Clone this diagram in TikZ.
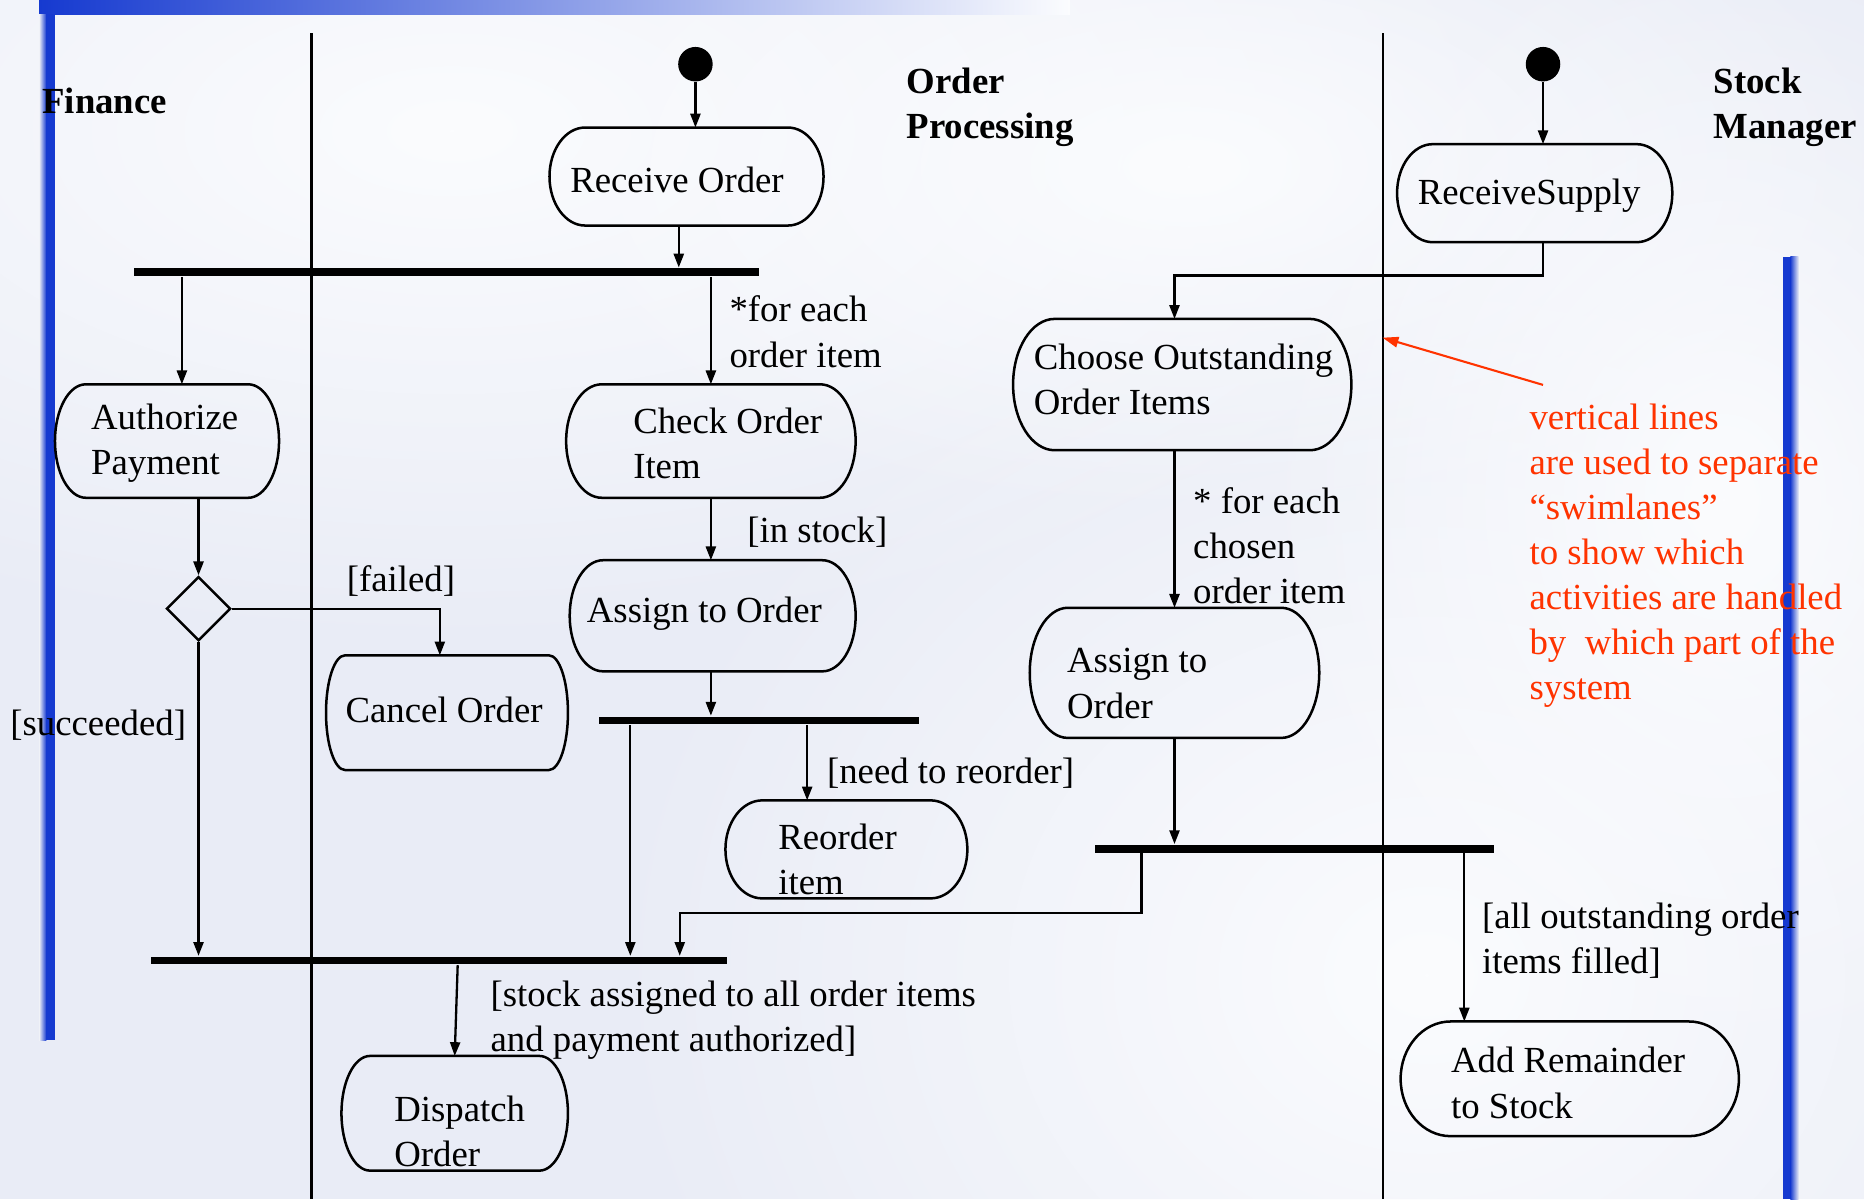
\documentclass[tikz,border=0pt]{standalone}
\usepackage{fontspec}
\setmainfont{Liberation Serif}
\usetikzlibrary{shapes.geometric,arrows.meta,calc,fadings}

\definecolor{bg}{RGB}{233,236,246}
\definecolor{bglight}{RGB}{251,252,254}
\definecolor{barblue}{RGB}{22,58,208}
\definecolor{notered}{RGB}{255,51,0}

\tikzfading[name=softglow, inner color=transparent!0, outer color=transparent!100]

\tikzset{
  x=0.01cm, y=-0.01cm,
  txt/.style={font=\fontsize{8.8}{10.8}\selectfont, align=left, inner sep=0pt, anchor=west, yshift=-0.03cm},
  lanehead/.style={txt, font=\bfseries\fontsize{8.8}{10.8}\selectfont},
  notetxt/.style={txt, text=notered},
  actframe/.style={rectangle, inner sep=0pt, draw=none},
  actline/.style={draw=black, line width=0.6pt},
  flow/.style={line width=0.55pt, -{Triangle[length=3.3pt,width=2.4pt]}},
  notearrow/.style={draw=notered, line width=0.5pt, -{Triangle[length=3.8pt,width=2.5pt]}},
  laneline/.style={line width=0.5pt},
  syncbar/.style={rectangle, fill=black, inner sep=0pt, minimum height=0.065cm},
  initial/.style={circle, fill=black, inner sep=0pt, minimum size=0.29cm},
  decision/.style={diamond, draw, line width=0.6pt, inner sep=0pt, aspect=1, minimum width=0.54cm, minimum height=0.54cm},
  glow/.style={fill=bglight, path fading=softglow},
}

% outline of an activity: flat top and bottom, elliptic left and right ends
\newcommand\actoutline[2]{%
  \draw[actline]
    ($(#1.north west)+(#2,0)$) -- ($(#1.north east)+(-#2,0)$)
    .. controls ($(#1.north east)+(-0.448*#2,0)$) and ($(#1.east)!0.552!(#1.north east)$) .. (#1.east)
    .. controls ($(#1.east)!0.552!(#1.south east)$) and ($(#1.south east)+(-0.448*#2,0)$) .. ($(#1.south east)+(-#2,0)$)
    -- ($(#1.south west)+(#2,0)$)
    .. controls ($(#1.south west)+(0.448*#2,0)$) and ($(#1.west)!0.552!(#1.south west)$) .. (#1.west)
    .. controls ($(#1.west)!0.552!(#1.north west)$) and ($(#1.north west)+(0.448*#2,0)$) .. ($(#1.north west)+(#2,0)$)
    -- cycle;
}
% activity: name, centre x, centre y, width, height (cm), text x, text y, text, end curvature
\newcommand\umlact[9]{%
  \node[actframe, minimum width=#4cm, minimum height=#5cm] (#1) at (#2,#3) {};
  \actoutline{#1}{#9}
  \node[txt] (#1-t) at (#6,#7) {#8};
}

\begin{document}
\begin{tikzpicture}
\useasboundingbox (0,0) rectangle (1568,1009);

% slide background with soft light patches
\fill[bg] (0,0) rectangle (1568,1009);
\fill[glow] (380,110) ellipse [x radius=9cm, y radius=4.4cm];
\fill[glow] (1200,820) ellipse [x radius=7cm, y radius=6cm];
\fill[glow] (1000,140) ellipse [x radius=6cm, y radius=3cm];
\fill[glow] (1450,420) ellipse [x radius=4cm, y radius=5cm];

% title bar and side bars
\shade[left color=barblue, right color=bglight] (33,0) rectangle (900,12.5);
\shade[left color=bg, right color=barblue] (33,12) rectangle (39,875);
\fill[barblue] (39,12) rectangle (46,875);
\fill[barblue] (1500,216) rectangle (1506,1009);
\shade[left color=barblue, right color=bg] (1506,216) rectangle (1513,1009);

% swimlane separators
\coordinate (l1t) at (262,28);
\coordinate (l1b) at (262,1009);
\coordinate (l2t) at (1163,28);
\coordinate (l2b) at (1163,1009);
\draw[laneline] (l1t) -- (l1b);
\draw[laneline] (l2t) -- (l2b);

% lane titles
\node[lanehead] (hfin) at (35,82) {Finance};
\node[lanehead] (hord) at (762,87) {Order\\Processing};
\node[lanehead] (hstk) at (1441,87) {Stock\\Manager};

% initial states
\node[initial] (i1) at (585,54) {};
\node[initial] (i2) at (1298,54) {};

% activities
\umlact{ro}{577.5}{148.5}{2.29}{0.81}{479}{148}{Receive Order}{30}
\umlact{rs}{1291}{162.5}{2.30}{0.81}{1192}{162}{ReceiveSupply}{30}
\umlact{ap}{140.5}{371}{1.87}{0.94}{76}{370}{Authorize\\Payment}{26}
\umlact{co}{598}{371}{2.42}{0.94}{532}{370}{Check Order\\Item}{30}
\umlact{am}{599.5}{518}{2.39}{0.92}{493}{513}{Assign to Order}{28}
\umlact{cn}{376}{599.5}{2.02}{0.95}{290}{594}{Cancel Order}{16}
\umlact{rr}{712}{714.5}{2.02}{0.81}{654}{720}{Reorder\\item}{31}
\umlact{dp}{382.5}{936.5}{1.89}{0.95}{331}{949}{Dispatch\\Order}{24}
\umlact{ch}{994.5}{323.5}{2.83}{1.09}{869}{316}{Choose Outstanding\\Order Items}{35}
\umlact{ar}{988}{566}{2.42}{1.08}{897}{572}{Assign to\\Order}{32}
\umlact{ad}{1320.5}{907.5}{2.83}{0.95}{1220}{908}{Add Remainder\\to Stock}{42}

% decision
\node[decision] (dm) at (167,512) {};

% fork and join bars
\node[syncbar, minimum width=5.25cm] (f1) at (375.5,229) {};
\node[syncbar, minimum width=2.69cm] (f2) at (638.5,606) {};
\node[syncbar, minimum width=3.36cm] (f3) at (1089,714) {};
\node[syncbar, minimum width=4.84cm] (f4) at (369,808) {};

% transitions
\draw[flow] (i1.south) -- (i1.south |- ro.north);
\draw[flow] (i2.south) -- (i2.south |- rs.north);
\draw[flow] ([xshift=-0.065cm]ro.south) -- ([xshift=-0.065cm]ro.south |- f1.north);
\draw[flow] ([xshift=0.125cm]ap.north |- f1.south) -- ([xshift=0.125cm]ap.north);
\draw[flow] (co.north |- f1.south) -- (co.north);
\draw[flow] (co.south) -- (co.south |- am.north);
\draw[flow] (co.south |- am.south) -- (co.south |- f2.north);
\draw[flow] ([xshift=-0.33cm]rr.north |- f2.south) -- ([xshift=-0.33cm]rr.north);
\draw[flow] ([xshift=0.27cm]f2.south west) -- ([xshift=0.27cm]f2.south west |- f4.north);
\draw[flow] (dm.north |- ap.south) -- (dm.north);
\draw[flow] (dm.east) -| ([xshift=-0.06cm]cn.north);
\draw[flow] (dm.south) -- (dm.south |- f4.north);
\draw[flow] ([xshift=0.07cm]rs.south) -- ++(0,28) -| ([xshift=-0.065cm]ch.north);
\draw[flow] (ar.north |- ch.south) -- (ar.north);
\draw[flow] (ar.south) -- (ar.south |- f3.north);
\draw[flow] ([xshift=0.40cm]f3.south west) -- ++(0,50) -| ([xshift=-0.40cm]f4.north east);
\draw[flow] ([xshift=-0.26cm]f3.south east) -- ([xshift=-0.26cm]f3.south east |- ad.north);
\draw[flow] ([xshift=0.16cm]f4.south) -- (dp.north);

% guards
\node[txt] (g1) at (613,276) {*for each\\order item};
\node[txt] (g2) at (628,445) {[in stock]};
\node[txt] (g3) at (695,647) {[need to reorder]};
\node[txt] (g4) at (291,486) {[failed]};
\node[txt] (g5) at (8,607) {[succeeded]};
\node[txt] (g6) at (1003,456) {* for each\\chosen\\order item};
\node[txt] (g7) at (1246,788) {[all outstanding order\\items filled]};
\node[txt] (g8) at (412,855) {[stock assigned to all order items\\and payment authorized]};

% annotation
\node[notetxt] (note) at (1286,464.5) {vertical lines\\are used to separate\\“swimlanes”\\to show which\\activities are handled\\by~ which part of the\\system};
\draw[notearrow] ([shift={(0.12cm,0.15cm)}]note.north west) -- ($(l2t)!0.261!(l2b)$);
\end{tikzpicture}
\end{document}
